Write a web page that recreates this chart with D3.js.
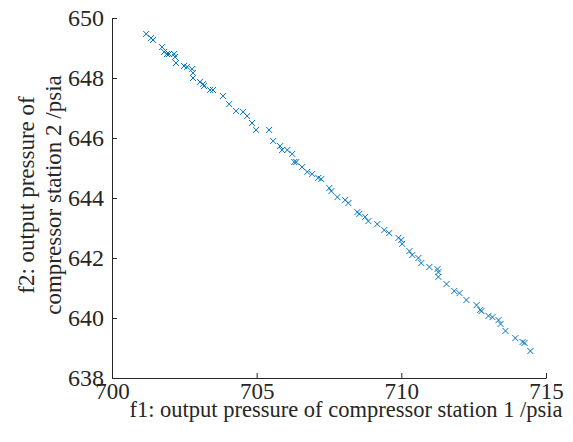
<!DOCTYPE html>
<html>
<head>
<meta charset="utf-8">
<script src="https://cdn.jsdelivr.net/npm/d3@7"></script>
<style>
  html, body { margin: 0; padding: 0; background: #fff; }
  svg { display: block; }
</style>
</head>
<body>
<script>
const f1 = [701.18,701.35,701.42,701.73,701.80,701.90,701.97,702.15,702.18,702.21,
  702.49,702.60,702.77,702.80,702.80,703.04,703.15,703.18,703.39,703.49,
  703.84,704.05,704.29,704.53,704.67,704.84,704.98,705.43,705.57,705.81,
  705.88,706.06,706.23,706.30,706.37,706.57,706.75,706.92,707.13,707.23,
  707.51,707.58,707.79,708.06,708.17,708.48,708.55,708.75,708.86,709.17,
  709.41,709.58,709.90,710.00,710.03,710.28,710.38,710.59,710.69,710.97,
  711.25,711.28,711.28,711.56,711.83,712.01,712.25,712.60,712.73,712.77,
  713.01,713.15,713.36,713.43,713.60,713.94,714.19,714.26,714.46];
const f2 = [649.47,649.33,649.27,649.03,648.87,648.80,648.80,648.80,648.70,648.50,
  648.40,648.37,648.30,648.17,648.00,647.87,647.80,647.73,647.60,647.60,
  647.40,647.13,646.90,646.87,646.73,646.50,646.27,646.27,645.90,645.73,
  645.60,645.60,645.47,645.20,645.20,645.03,644.87,644.80,644.67,644.63,
  644.33,644.23,644.03,643.93,643.83,643.53,643.47,643.37,643.23,643.13,
  642.93,642.83,642.67,642.60,642.47,642.23,642.10,642.00,641.83,641.70,
  641.63,641.53,641.37,641.13,640.90,640.83,640.60,640.43,640.27,640.23,
  640.07,640.03,639.93,639.80,639.57,639.33,639.20,639.17,638.90];
const xTicks = [700, 705, 710, 715];
const yTicks = [638, 640, 642, 644, 646, 648, 650];
const xTitle = "f1: output pressure of compressor station 1 /psia";
const yTitleLines = ["f2: output pressure of", "compressor station 2 /psia"];

const W = 573, H = 442;
const mLeft = 112, mRight = 546, mTop = 18, mBottom = 378;
const FONT = "'Liberation Serif', 'Times New Roman', serif";

const svg = d3.select("body").append("svg").attr("width", W).attr("height", H)
  .style("font-family", FONT);

const x = d3.scaleLinear().domain([700, 715]).range([mLeft, mRight]);
const y = d3.scaleLinear().domain([638, 650]).range([mBottom, mTop]);

const xAxis = svg.append("g").attr("transform", `translate(0,${mBottom})`)
  .call(d3.axisBottom(x).tickValues(xTicks).tickFormat(d3.format("d"))
    .tickSizeInner(-5).tickSizeOuter(0).tickPadding(5));
const yAxis = svg.append("g").attr("transform", `translate(${mLeft},0)`)
  .call(d3.axisLeft(y).tickValues(yTicks).tickFormat(d3.format("d"))
    .tickSizeInner(-5).tickSizeOuter(0).tickPadding(8));

[xAxis, yAxis].forEach(g => {
  g.attr("font-family", null).attr("font-size", null);
  g.selectAll("path.domain").attr("stroke", "#262626").attr("stroke-width", 1);
  g.selectAll(".tick line").attr("stroke", "#262626").attr("stroke-width", 1);
  g.selectAll(".tick text").style("font-family", FONT).attr("fill", "#262626");
});
xAxis.selectAll(".tick text").style("font-size", "23px");
yAxis.selectAll(".tick text").style("font-size", "24px");

svg.append("text").attr("x", 346).attr("y", 417)
  .attr("text-anchor", "middle").style("font-family", FONT).style("font-size", "22.5px")
  .attr("fill", "#262626").text(xTitle);

const yt = svg.append("text").attr("transform", "rotate(-90)")
  .attr("text-anchor", "middle").style("font-family", FONT).style("font-size", "23px")
  .attr("fill", "#262626");
yt.selectAll("tspan").data(yTitleLines).join("tspan")
  .attr("x", -195).attr("y", (d, i) => 34 + i * 27).text(d => d);

const pts = d3.range(f1.length).map(i => ({ a: f1[i], b: f2[i] }));
svg.append("g").selectAll("path").data(pts).join("path")
  .attr("transform", d => `translate(${x(d.a)},${y(d.b)})`)
  .attr("d", "M-3,-3L3,3M-3,3L3,-3")
  .attr("fill", "none").attr("stroke", "#0072BD").attr("stroke-width", 1);
</script>
</body>
</html>
